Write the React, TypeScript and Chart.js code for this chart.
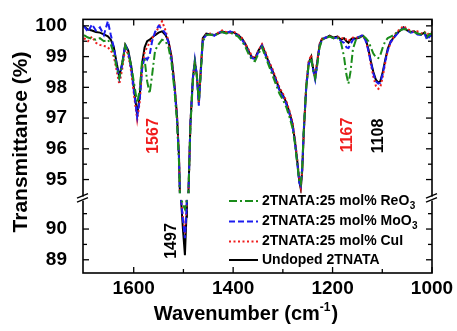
import React, { useEffect, useRef } from 'react';
import { Chart, registerables } from 'chart.js';

Chart.register(...registerables);

const wavenumbers = [1700,1692,1684,1676,1668,1660,1652,1646,1640,1635,1629,1623,1617,1611,1605,1599,1593,1588,1583,1578,1573,1568,1563,1557,1550,1543,1536,1530,1524,1518,1513,1509,1507,1505,1501,1497,1494,1493,1490,1486,1481,1477,1473,1469,1465,1461,1454,1446,1438,1430,1422,1414,1406,1398,1390,1382,1375,1368,1362,1356,1349,1342,1335,1328,1321,1314,1307,1300,1293,1287,1281,1276,1271,1267,1264,1261,1258,1253,1248,1243,1239,1235,1231,1226,1221,1214,1206,1198,1190,1183,1177,1172,1168,1164,1159,1153,1146,1139,1133,1128,1123,1118,1113,1108,1104,1099,1094,1089,1083,1077,1071,1064,1057,1050,1043,1036,1029,1022,1015,1010,1005,1000];

const undoped = [99.98,99.88,99.85,99.8,99.78,99.72,99.66,99.55,99.3,98.85,98.35,98.8,99.38,99.2,98.7,97.9,97.12,97.7,98.8,99.3,99.5,99.55,99.62,99.7,99.78,99.82,99.7,99.5,99.0,98.1,97.1,95.8,94.5,91.0,90.0,89.15,90.4,91.0,94.5,96.8,98.3,98.85,98.4,97.5,98.6,99.6,99.75,99.72,99.7,99.75,99.82,99.78,99.8,99.78,99.7,99.58,99.4,99.15,98.98,98.95,99.2,99.38,99.1,98.8,98.55,98.25,97.95,97.75,97.5,97.2,96.85,96.3,95.6,94.95,94.7,95.3,96.5,98.0,98.8,99.0,98.6,98.3,98.8,99.4,99.58,99.6,99.68,99.62,99.65,99.55,99.6,99.5,99.45,99.55,99.6,99.58,99.62,99.68,99.55,99.25,98.85,98.5,98.25,98.15,98.2,98.5,98.9,99.25,99.5,99.62,99.75,99.85,99.95,99.85,99.8,99.82,99.75,99.72,99.78,99.62,99.72,99.75];

const cuiDoped = [99.6,99.5,99.65,99.45,99.38,99.35,99.3,99.2,99.0,98.6,98.1,98.6,99.3,99.05,98.5,97.7,96.95,97.5,98.6,99.15,99.3,99.45,99.6,99.75,99.95,100.15,99.85,99.5,99.0,98.1,97.1,95.8,94.5,91.0,90.4,89.85,90.6,91.0,94.5,96.8,98.3,98.8,98.35,97.5,98.6,99.55,99.72,99.75,99.7,99.78,99.85,99.8,99.78,99.8,99.72,99.6,99.4,99.2,99.0,98.95,99.2,99.4,99.15,98.85,98.6,98.3,98.0,97.8,97.55,97.25,96.9,96.35,95.65,95.0,94.75,95.3,96.5,98.1,98.85,99.05,98.65,98.35,98.85,99.4,99.58,99.62,99.66,99.6,99.65,99.58,99.62,99.55,99.5,99.58,99.62,99.6,99.65,99.7,99.5,99.2,98.75,98.35,98.05,97.95,98.0,98.35,98.8,99.2,99.45,99.65,99.8,99.9,100.0,99.9,99.85,99.8,99.82,99.75,99.8,99.7,99.78,99.8];

const moo3Doped = [100.0,99.8,100.05,99.85,99.95,99.7,100.15,99.7,99.3,98.8,98.3,98.75,99.4,99.15,98.6,97.8,97.05,97.6,98.6,99.0,98.9,99.05,99.5,99.8,100.0,99.9,99.75,99.45,98.9,98.0,97.0,95.7,94.5,91.0,90.3,89.7,90.6,91.0,94.5,96.8,98.3,98.9,98.4,97.4,98.5,99.55,99.7,99.75,99.68,99.78,99.8,99.75,99.82,99.75,99.68,99.55,99.35,99.1,98.95,98.92,99.15,99.35,99.05,98.78,98.5,98.2,97.9,97.7,97.45,97.15,96.8,96.25,95.55,94.9,94.8,95.4,96.6,98.0,98.75,98.95,98.55,98.25,98.75,99.35,99.55,99.62,99.65,99.6,99.62,99.5,99.45,99.3,99.28,99.4,99.55,99.6,99.65,99.7,99.5,99.2,98.8,98.45,98.2,98.12,98.15,98.45,98.85,99.2,99.48,99.6,99.72,99.85,99.92,99.85,99.78,99.8,99.72,99.7,99.75,99.55,99.65,99.7];

const reo3Doped = [99.7,99.62,99.58,99.55,99.6,99.5,99.55,99.4,99.1,98.7,98.3,98.75,99.35,99.1,98.7,98.1,97.5,97.9,98.9,98.9,98.2,97.8,98.4,99.2,99.4,99.55,99.5,99.3,98.8,97.9,96.9,95.6,94.5,91.0,90.8,90.65,90.85,91.0,94.5,96.7,98.2,98.8,98.35,97.55,98.5,99.5,99.7,99.72,99.68,99.75,99.8,99.75,99.78,99.72,99.65,99.5,99.3,99.05,98.9,98.85,99.1,99.3,99.0,98.7,98.4,98.1,97.8,97.6,97.35,97.05,96.7,96.2,95.5,94.95,94.85,95.4,96.6,98.0,98.75,98.95,98.55,98.3,98.7,99.3,99.55,99.6,99.65,99.6,99.62,99.45,99.0,98.4,98.12,98.5,99.25,99.55,99.62,99.68,99.6,99.5,99.3,99.1,98.98,98.95,99.05,99.3,99.5,99.6,99.65,99.7,99.78,99.85,99.9,99.88,99.8,99.8,99.75,99.72,99.78,99.65,99.72,99.75];

const seriesLabels = ['2TNATA:25 mol% ReO', '2TNATA:25 mol% MoO', '2TNATA:25 mol% CuI', 'Undoped 2TNATA'];
const seriesSubscripts = ['3', '3', '', ''];

const xTickValues = [1600, 1400, 1200, 1000];
const xMinorTickValues = [1700, 1500, 1300, 1100];
const yUpperTicks = [95, 96, 97, 98, 99, 100];
const yLowerTicks = [89, 90];
const yUpperMinor = [95.5, 96.5, 97.5, 98.5, 99.5];
const yLowerMinor = [89.5, 90.5];

const peakLabels = ['1567', '1497', '1167', '1108'];
const peakWavenumbers = [1561, 1527, 1169, 1107];

const SHIFT = 3.39; // broken axis: lower segment displayed shifted upwards
const toDisplay = (v: number) => (v < 92.7 ? v + SHIFT : v);
const fromDisplay = (d: number) => (d < 94.4 ? d - SHIFT : d);

const FONT = '"Liberation Sans", Arial, Helvetica, sans-serif';

const COLORS = ['#1a8c1a', '#1c1cf0', '#f01c1c', '#000000'];
const DASHES = [[8, 3, 2, 3], [6, 3], [2, 2.5], []];

const decorPlugin = {
  id: 'decor',
  afterDatasetsDraw(chart: any) {
    const { ctx, chartArea: a, scales } = chart;
    const xs = scales.x;
    const ys = scales.y;
    ctx.save();
    // gap of broken axis
    const yb1 = ys.getPixelForValue(94.55);
    const yb2 = ys.getPixelForValue(94.34);
    ctx.fillStyle = '#ffffff';
    ctx.fillRect(a.left + 1, yb1, a.right - a.left - 2, yb2 - yb1);

    // frame
    ctx.strokeStyle = '#000';
    ctx.lineWidth = 1.6;
    ctx.setLineDash([]);
    ctx.strokeRect(a.left, a.top, a.right - a.left, a.bottom - a.top);

    const seg = (x1: number, y1: number, x2: number, y2: number) => {
      ctx.beginPath();
      ctx.moveTo(x1, y1);
      ctx.lineTo(x2, y2);
      ctx.stroke();
    };
    ctx.lineWidth = 1.3;
    xTickValues.forEach((w) => {
      const px = xs.getPixelForValue(w);
      seg(px, a.bottom, px, a.bottom - 6);
      seg(px, a.top, px, a.top + 6);
    });
    xMinorTickValues.forEach((w) => {
      const px = xs.getPixelForValue(w);
      if (px <= a.left + 1) return;
      seg(px, a.bottom, px, a.bottom - 4);
      seg(px, a.top, px, a.top + 4);
    });
    [...yUpperTicks, ...yLowerTicks].forEach((v) => {
      const py = ys.getPixelForValue(toDisplay(v));
      seg(a.left, py, a.left + 6, py);
      seg(a.right, py, a.right - 6, py);
    });
    [...yUpperMinor, ...yLowerMinor].forEach((v) => {
      const py = ys.getPixelForValue(toDisplay(v));
      seg(a.left, py, a.left + 4, py);
      seg(a.right, py, a.right - 4, py);
    });

    // break marks
    const yb = ys.getPixelForValue(94.38);
    [a.left, a.right].forEach((x0: number) => {
      ctx.fillStyle = '#fff';
      ctx.fillRect(x0 - 2, yb - 2, 4, 4);
      ctx.lineWidth = 1.3;
      seg(x0 - 6, yb - 0.5, x0 + 5, yb - 5);
      seg(x0 - 6, yb + 3.5, x0 + 5, yb - 1);
    });

    // peak annotations
    ctx.font = `bold 16px ${FONT}`;
    ctx.textAlign = 'center';
    ctx.textBaseline = 'middle';
    const annot = (text: string, cx: number, cy: number, color: string) => {
      ctx.save();
      ctx.translate(cx, cy);
      ctx.rotate(-Math.PI / 2);
      ctx.fillStyle = color;
      ctx.fillText(text, 0, 0);
      ctx.restore();
    };
    const annColors = ['#f01c1c', '#000000', '#f01c1c', '#000000'];
    const annY = [136, 241, 135, 136];
    peakLabels.forEach((t, i) => {
      annot(t, xs.getPixelForValue(peakWavenumbers[i]) + (i === 1 ? 2 : 0), annY[i], annColors[i]);
    });

    // legend
    const rowY = [201, 221.5, 241.5, 260];
    seriesLabels.forEach((lab, i) => {
      const y = rowY[i];
      ctx.strokeStyle = COLORS[i];
      ctx.lineWidth = 2;
      ctx.setLineDash(DASHES[i]);
      seg(229, y, 258, y);
      ctx.setLineDash([]);
      ctx.fillStyle = '#000';
      ctx.font = `bold 14px ${FONT}`;
      ctx.textAlign = 'left';
      ctx.textBaseline = 'middle';
      ctx.fillText(lab, 262, y);
      if (seriesSubscripts[i]) {
        const w = ctx.measureText(lab).width;
        ctx.font = `bold 10px ${FONT}`;
        ctx.fillText(seriesSubscripts[i], 262 + w + 0.5, y + 5);
      }
    });
    ctx.restore();
  },
  afterDraw(chart: any) {
    const { ctx } = chart;
    ctx.save();
    ctx.fillStyle = '#000';
    // y title
    ctx.font = `bold 21px ${FONT}`;
    ctx.textAlign = 'center';
    ctx.textBaseline = 'alphabetic';
    ctx.translate(26.5, 142);
    ctx.rotate(-Math.PI / 2);
    ctx.fillText('Transmittance (%)', 0, 0);
    ctx.restore();

    ctx.save();
    ctx.fillStyle = '#000';
    ctx.textBaseline = 'alphabetic';
    ctx.textAlign = 'left';
    const main = 'Wavenumber (cm';
    ctx.font = `bold 20px ${FONT}`;
    const w1 = ctx.measureText(main).width;
    ctx.font = `bold 12px ${FONT}`;
    const w2 = ctx.measureText('-1').width;
    ctx.font = `bold 20px ${FONT}`;
    const w3 = ctx.measureText(')').width;
    const total = w1 + w2 + w3 + 1;
    let x = 246 - total / 2;
    const base = 320;
    ctx.fillText(main, x, base);
    x += w1;
    ctx.font = `bold 12px ${FONT}`;
    ctx.fillText('-1', x, base - 9);
    x += w2 + 1;
    ctx.font = `bold 20px ${FONT}`;
    ctx.fillText(')', x, base);
    ctx.restore();
  },
};

export default function App() {
  const ref = useRef<HTMLCanvasElement | null>(null);
  useEffect(() => {
    if (!ref.current) return;
    const all = [reo3Doped, moo3Doped, cuiDoped, undoped];
    const chart = new Chart(ref.current, {
      type: 'line',
      data: {
        datasets: all.map((vals, i) => ({
          label: seriesLabels[i] + seriesSubscripts[i],
          data: wavenumbers.map((w, j) => ({ x: w, y: toDisplay(vals[j]) })),
          borderColor: COLORS[i],
          borderWidth: 2,
          borderDash: DASHES[i],
          pointRadius: 0,
          fill: false,
          tension: 0,
        })),
      },
      options: {
        animation: false,
        responsive: false,
        devicePixelRatio: 1,
        layout: { padding: { top: 14, right: 25, left: 0, bottom: 0 } },
        plugins: { legend: { display: false }, tooltip: { enabled: false } },
        scales: {
          x: {
            type: 'linear',
            reverse: true,
            min: 1000,
            max: 1702,
            grid: { display: false },
            border: { display: false },
            ticks: {
              color: '#000',
              font: { family: FONT, size: 19, weight: 'bold' },
              padding: -4,
              maxRotation: 0,
              autoSkip: false,
              callback: (value: any) => String(Math.round(Number(value))),
            },
            afterBuildTicks: (scale: any) => {
              scale.ticks = xTickValues.map((v) => ({ value: v }));
            },
            afterFit: (scale: any) => {
              scale.height = 58;
            },
          },
          y: {
            type: 'linear',
            min: 91.96,
            max: 100.21,
            grid: { display: false },
            border: { display: false },
            ticks: {
              color: '#000',
              font: { family: FONT, size: 19, weight: 'bold' },
              padding: 8,
              autoSkip: false,
              callback: (value: any) => String(Math.round(fromDisplay(Number(value)))),
            },
            afterBuildTicks: (scale: any) => {
              scale.ticks = [...yLowerTicks, ...yUpperTicks].map((v) => ({ value: toDisplay(v) }));
            },
            afterFit: (scale: any) => {
              scale.width = 83;
            },
          },
        },
      } as any,
      plugins: [decorPlugin],
    });
    return () => chart.destroy();
  }, []);
  return (
    <div style={{ position: 'fixed', left: 0, top: 0, width: 457, height: 331, background: '#fff' }}>
      <canvas ref={ref} width={457} height={331} style={{ width: 457, height: 331, display: 'block' }} />
    </div>
  );
}
